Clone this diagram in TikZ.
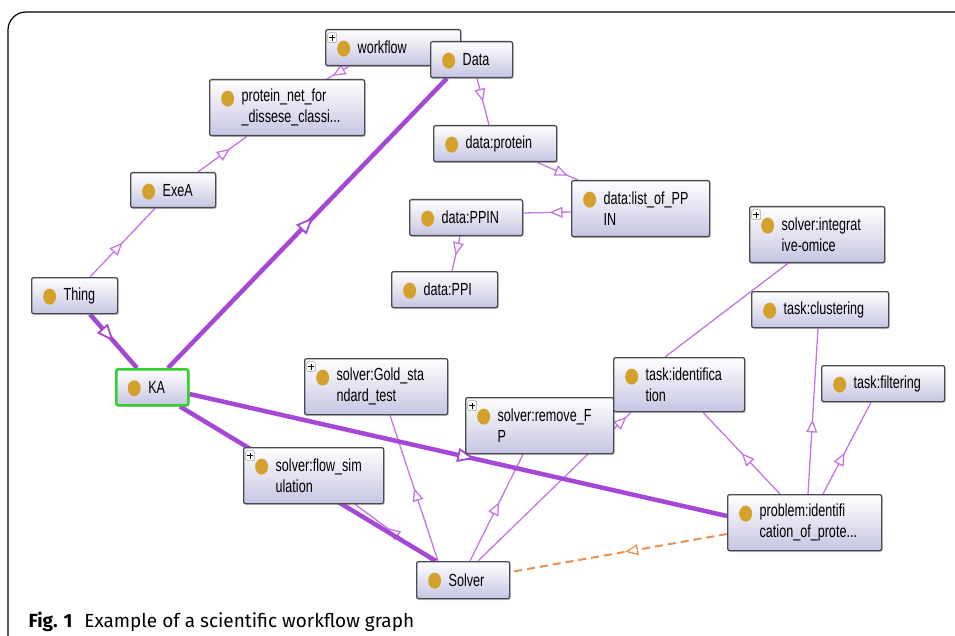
\documentclass[tikz,border=0pt]{standalone}
\usepackage{fontspec}
\usetikzlibrary{arrows.meta,decorations.markings,backgrounds,shadows}
\newfontfamily\nodefont[FakeStretch=0.72]{Liberation Sans}
\newfontfamily\capfont{Fira Sans}
\definecolor{boxlav}{HTML}{C6C5E3}
\definecolor{boxedge}{HTML}{4A4A50}
\definecolor{bullet}{HTML}{D4A22C}
\definecolor{relthin}{HTML}{C674EA}
\definecolor{relthick}{HTML}{A548D6}
\definecolor{dashor}{HTML}{E8904C}
\definecolor{kagreen}{HTML}{2ED12E}
% golden dot and the small expand icon inside a class box
\newcommand{\bulletmark}{\fill[bullet] ([shift={(18pt,-19pt)}]path picture bounding box.north west) ellipse (6.5pt and 8pt);}
\newcommand{\plusmark}{\draw[gray!70, fill=white, line width=0.6pt] ([shift={(2pt,-3pt)}]path picture bounding box.north west) rectangle ++(9pt,-10pt);
  \draw[black, line width=0.9pt] ([shift={(6.5pt,-5pt)}]path picture bounding box.north west) -- ++(0pt,-6pt);
  \draw[black, line width=0.9pt] ([shift={(3.5pt,-8pt)}]path picture bounding box.north west) -- ++(6pt,0pt);}
\begin{document}
\begin{tikzpicture}[x=1pt, y=-1pt,
    cls/.style={draw=boxedge, line width=1.3pt, rounded corners=2pt, top color=white, bottom color=boxlav,
      drop shadow={shadow xshift=1pt, shadow yshift=-1.5pt, opacity=0.35},
      anchor=north west, inner xsep=0pt, inner ysep=0pt, align=left,
      font=\nodefont\fontsize{17.5pt}{21pt}\selectfont,
      execute at begin node={\leftskip=32pt\hyphenpenalty=10000},
      path picture={\bulletmark}},
    xcls/.style={cls, path picture={\bulletmark\plusmark}},
    boxdim/.style 2 args={minimum width=#1pt, text width=#1pt, minimum height=#2pt},
    tri/.style={postaction={decorate, decoration={markings, mark=at position #1 with {\arrow[line width=1.3pt]{Triangle[length=13pt, width=11pt, fill=white]}}}}},
    bigtri/.style={postaction={decorate, decoration={markings, mark=at position #1 with {\arrow[line width=1.8pt]{Triangle[length=17pt, width=14pt, fill=white]}}}}},
    thinrel/.style={draw=relthin, line width=1.3pt},
    thickrel/.style={draw=relthick, line width=4.5pt},
    dashrel/.style={draw=dashor, line width=2pt, dash pattern=on 8pt off 5pt}]
    \useasboundingbox (0,0) rectangle (955,636);
    \draw[line width=1.2pt, rounded corners=18pt] (8,640) -- (8,12) -- (960,12);

    \node[xcls, boxdim={135}{36}] (workflow) at (325,29) {workflow};
    \node[cls, boxdim={82}{36}] (data) at (430,41) {Data};
    \node[cls, boxdim={155}{56}] (protnet) at (209,79) {protein\_net\_for\\\_dissese\_classi...};
    \node[cls, boxdim={123}{36}] (dprotein) at (433,125) {data:protein};
    \node[cls, boxdim={138}{56}] (dlist) at (571,180) {data:list\_of\_PP\\IN};
    \node[cls, boxdim={113}{36}] (dppin) at (409,199) {data:PPIN};
    \node[cls, boxdim={106}{36}] (dppi) at (391,271) {data:PPI};
    \node[cls, boxdim={85}{35}] (exea) at (130,172) {ExeA};
    \node[cls, boxdim={86}{36}] (thing) at (31,277) {Thing};
    \node[cls, boxdim={72}{36}, draw=kagreen, line width=2.5pt] (ka) at (115,368) {KA};
    \node[xcls, boxdim={135}{56}] (integ) at (749,206) {solver:integrat\\ive-omice};
    \node[cls, boxdim={137}{36}] (clust) at (751,291) {task:clustering};
    \node[xcls, boxdim={143}{56}] (gold) at (304,358) {solver:Gold\_sta\\ndard\_test};
    \node[xcls, boxdim={148}{56}] (remfp) at (465,397) {solver:remove\_F\\P};
    \node[cls, boxdim={131}{54}] (tident) at (613,357) {task:identifica\\tion};
    \node[cls, boxdim={123}{36}] (tfilter) at (821,365) {task:filtering};
    \node[xcls, boxdim={140}{56}] (flowsim) at (243,447) {solver:flow\_sim\\ulation};
    \node[cls, boxdim={154}{56}] (problem) at (727,494) {problem:identifi\\cation\_of\_prote...};
    \node[cls, boxdim={93}{37}] (solver) at (416,561) {Solver};

    \begin{scope}[on background layer]
    % subclass links
    \draw[thinrel, tri=0.75] ([xshift=24pt]workflow.south west) -- ([xshift=118pt]protnet.north west);
    \draw[thinrel, tri=0.65] ([xshift=68pt]exea.north west) -- ([xshift=38pt]protnet.south west);
    \draw[thinrel, tri=0.5] ([xshift=59pt]thing.north west) -- ([xshift=25pt]exea.south west);
    \draw[thinrel, tri=0.5] ([xshift=47pt]data.south west) -- ([xshift=56pt]dprotein.north west);
    \draw[thinrel, tri=0.75] ([xshift=104pt]dprotein.south west) -- ([xshift=7pt]dlist.north west);
    \draw[thinrel, tri=0.45] ([yshift=-32pt]dlist.north west) -- ([yshift=-14pt]dppin.north east);
    \draw[thinrel, tri=0.55] ([xshift=51pt]dppin.south west) -- ([xshift=61pt]dppi.north west);
    \draw[thinrel] ([xshift=39pt]integ.south west) -- ([xshift=52pt]tident.north west);
    \draw[thinrel, tri=0.45] ([xshift=81pt]problem.north west) -- ([xshift=67pt]clust.south west);
    \draw[thinrel, tri=0.45] ([xshift=96pt]problem.north west) -- ([xshift=50pt]tfilter.south west);
    \draw[thinrel, tri=0.5] ([xshift=53pt]problem.north west) -- ([xshift=90pt]tident.south west);
    \draw[thinrel, tri=0.5] ([xshift=22pt]solver.north west) -- ([xshift=86pt]gold.south west);
    \draw[thinrel, tri=0.55] ([xshift=54pt]solver.north west) -- ([xshift=58pt]remfp.south west);
    \draw[thinrel, tri=0.97] ([xshift=62pt]solver.north west) -- ([xshift=18pt]tident.south west);
    \draw[thinrel, tri=0.58] ([xshift=16pt]solver.north west) -- ([xshift=112pt]flowsim.south west);
    % links from KA
    \draw[thickrel, bigtri=0.5] ([xshift=59pt]thing.south west) -- ([xshift=22pt]ka.north west);
    \draw[thickrel, bigtri=0.52] ([xshift=53pt]ka.north west) -- ([xshift=17pt]data.south west);
    \draw[thickrel, bigtri=0.53] ([yshift=-26pt]ka.north east) -- ([yshift=-22pt]problem.north west);
    \draw[thickrel] ([xshift=65pt]ka.south west) -- ([xshift=20pt]solver.north west);
    \draw[dashrel, tri=0.47] ([yshift=-40pt]problem.north west) -- ([yshift=-11pt]solver.north east);
    \end{scope}

    \node[anchor=base west, font=\capfont\fontsize{19pt}{22pt}\selectfont] (caption) at (25,627)
      {\textbf{Fig. 1}\hspace{12pt}Example of a scientific workflow graph};
\end{tikzpicture}
\end{document}
